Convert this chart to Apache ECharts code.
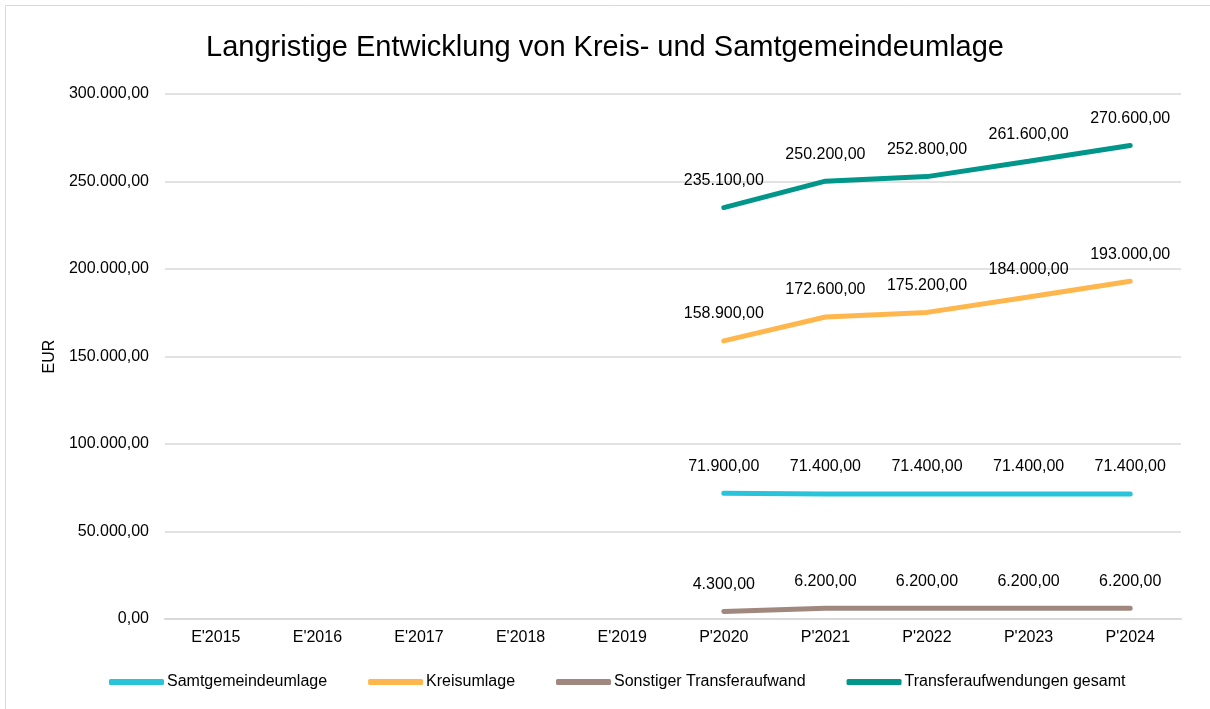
<!DOCTYPE html>
<html><head><meta charset="utf-8">
<script src="https://cdn.jsdelivr.net/npm/echarts@6/dist/echarts.min.js"></script>
<style>html,body{margin:0;padding:0;background:#fff}#c{width:1210px;height:709px}</style>
</head><body><div id="c"></div>
<script>
var categories = ["E'2015","E'2016","E'2017","E'2018","E'2019","P'2020","P'2021","P'2022","P'2023","P'2024"];
var samtgemeindeumlage = [null,null,null,null,null,71900,71400,71400,71400,71400];
var kreisumlage = [null,null,null,null,null,158900,172600,175200,184000,193000];
var sonstiger = [null,null,null,null,null,4300,6200,6200,6200,6200];
var gesamt = [null,null,null,null,null,235100,250200,252800,261600,270600];
var seriesNames = ["Samtgemeindeumlage","Kreisumlage","Sonstiger Transferaufwand","Transferaufwendungen gesamt"];
var colors = ["#29C4D9","#FFB74D","#A1887F","#00968A"];

function fmt(v){
  var s = Math.round(v).toString().replace(/\B(?=(\d{3})+(?!\d))/g, ".");
  return s + ",00";
}
var font = "'Liberation Sans', Arial, sans-serif";
function mk(name, data, color){
  return {
    name: name, type: 'line', data: data, symbol: 'circle', symbolSize: 0, showSymbol: true,
    lineStyle: {width: 5, color: color, cap: 'round'}, itemStyle: {color: color},
    label: {show: true, position: 'top', distance: 19, formatter: function(p){return fmt(p.value);},
      fontFamily: font, fontSize: 16, color: '#000'}
  };
}
var chart = echarts.init(document.getElementById('c'));
chart.setOption({
  animation: false,
  color: colors,
  graphic: [{type:'rect', shape:{x:5.5,y:5.5,width:1210,height:710}, style:{fill:'none', stroke:'#d9d9d9', lineWidth:1}, silent:true}],
  title: {text: 'Langristige Entwicklung von Kreis- und Samtgemeindeumlage', left: 'center', top: 28,
    textStyle: {fontFamily: font, fontSize: 29, fontWeight: 'normal', color: '#000'}},
  grid: {left: 165, right: 29, top: 94, bottom: 90, containLabel: false},
  legend: {bottom: 14, left: 104, itemWidth: 55, itemHeight: 6, itemGap: 41,
    textStyle: {fontFamily: font, fontSize: 16, color: '#000', padding: [0,0,0,-2]},
    data: seriesNames.map(function(n,i){return {name:n, icon:'roundRect', itemStyle:{color:colors[i]}};})},
  xAxis: {type: 'category', data: categories, boundaryGap: true,
    axisLine: {lineStyle: {color: '#d9d9d9', width: 2}}, axisTick: {show: false},
    axisLabel: {fontFamily: font, fontSize: 16, color: '#000', margin: 11}},
  yAxis: {type: 'value', min: 0, max: 300000, interval: 50000, name: 'EUR', nameLocation: 'middle', nameGap: 103,
    nameTextStyle: {fontFamily: font, fontSize: 16, color: '#000'},
    axisLine: {show: false}, axisTick: {show: false},
    splitLine: {lineStyle: {color: '#d9d9d9', width: 1.5}},
    axisLabel: {fontFamily: font, fontSize: 16, color: '#000', margin: 16, formatter: function(v){return fmt(v);}}},
  series: [mk(seriesNames[0], samtgemeindeumlage, colors[0]), mk(seriesNames[1], kreisumlage, colors[1]),
           mk(seriesNames[2], sonstiger, colors[2]), mk(seriesNames[3], gesamt, colors[3])]
});
</script></body></html>
